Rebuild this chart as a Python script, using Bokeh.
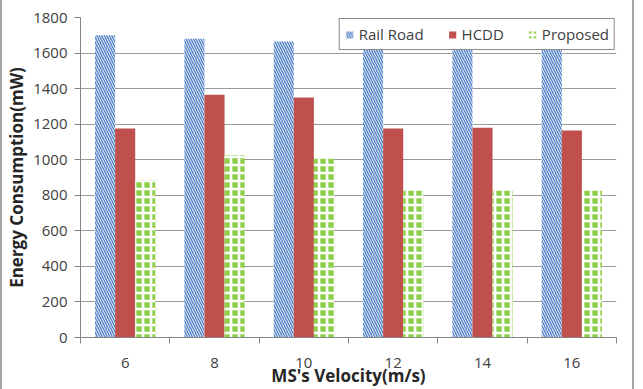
from bokeh.plotting import figure
from bokeh.models import FixedTicker, Range1d, Legend, LegendItem, ColumnDataSource
from bokeh.transform import dodge
from bokeh.embed import file_html
from bokeh.resources import INLINE

# ---- data ----
velocities = ["6", "8", "10", "12", "14", "16"]
rail_road = [1700, 1680, 1665, 1650, 1650, 1650]
hcdd = [1175, 1365, 1350, 1175, 1180, 1165]
proposed = [885, 1025, 1005, 825, 825, 825]
y_ticks = [0, 200, 400, 600, 800, 1000, 1200, 1400, 1600, 1800]

centers = [i + 0.5 for i in range(len(velocities))]
bounds = [i for i in range(len(velocities) + 1)]

src = ColumnDataSource(dict(x=centers, rail=rail_road, hcdd=hcdd, prop=proposed))

FONT = "Open Sans"

p = figure(width=634, height=389, output_backend="svg", toolbar_location=None,
           x_range=Range1d(0, len(velocities)), y_range=Range1d(0, 1800),
           min_border_left=74, min_border_right=20, min_border_top=17, min_border_bottom=50,
           styles={"border-left": "2px solid #a3a3a3", "border-right": "2px solid #a3a3a3"})
p.outline_line_color = None
p.background_fill_color = "white"
p.border_fill_color = "white"

bw = 0.225

r1 = p.vbar(x=dodge("x", -bw, range=p.x_range), top="rail", width=bw, source=src,
            fill_color="white", line_color=None,
            hatch_pattern="\\", hatch_color="#5585c9", hatch_scale=5, hatch_weight=1.5)
r2 = p.vbar(x=dodge("x", 0, range=p.x_range), top="hcdd", width=bw, source=src,
            fill_color="#C0504D", line_color=None)
r3 = p.vbar(x=dodge("x", bw, range=p.x_range), top="prop", width=bw, source=src,
            fill_color="#8fcf4a", line_color=None,
            hatch_pattern="+", hatch_color="white", hatch_scale=8, hatch_weight=2.6)

# y axis
ya = p.yaxis[0]
ya.ticker = FixedTicker(ticks=y_ticks)
ya.axis_line_color = "#868686"
ya.major_tick_line_color = "#868686"
ya.major_tick_out = 6
ya.major_tick_in = 0
ya.minor_tick_line_color = None
ya.major_label_standoff = 7
ya.major_label_text_font = FONT
ya.major_label_text_font_size = "15px"
ya.major_label_text_color = "#404040"
ya.axis_label = "Energy Consumption(mW)"
ya.axis_label_text_font = FONT
ya.axis_label_text_font_size = "17px"
ya.axis_label_text_font_style = "bold"
ya.axis_label_text_color = "#262626"
ya.axis_label_standoff = 2

# x axis: labels at category centres, ticks at category boundaries
xa = p.xaxis[0]
xa.ticker = FixedTicker(ticks=centers, minor_ticks=bounds)
xa.major_label_overrides = {c: v for c, v in zip(centers, velocities)}
xa.axis_line_color = "#868686"
xa.major_tick_line_color = None
xa.major_tick_out = 0
xa.major_tick_in = 0
xa.minor_tick_line_color = "#868686"
xa.minor_tick_out = 6
xa.minor_tick_in = 0
xa.major_label_standoff = 14
xa.major_label_text_font = FONT
xa.major_label_text_font_size = "15px"
xa.major_label_text_color = "#404040"
xa.axis_label = "MS's Velocity(m/s)"
xa.axis_label_text_font = FONT
xa.axis_label_text_font_size = "17px"
xa.axis_label_text_font_style = "bold"
xa.axis_label_text_color = "#262626"
xa.axis_label_standoff = -7

p.xgrid.grid_line_color = None
p.ygrid.ticker = FixedTicker(ticks=y_ticks)
p.ygrid.grid_line_color = "#9a9a9a"
p.ygrid.grid_line_width = 1

legend = Legend(items=[LegendItem(label="Rail Road", renderers=[r1]),
                       LegendItem(label="HCDD", renderers=[r2]),
                       LegendItem(label="Proposed", renderers=[r3])],
                orientation="horizontal", location="top_right")
legend.margin = 1
legend.padding = 5
legend.spacing = 24
legend.label_standoff = 5
legend.glyph_width = 9
legend.glyph_height = 9
legend.label_height = 16
legend.label_text_font = FONT
legend.label_text_font_size = "15px"
legend.label_text_color = "#404040"
legend.border_line_color = "#1a1a1a"
legend.border_line_width = 1.5
legend.background_fill_color = "white"
legend.background_fill_alpha = 1
p.add_layout(legend, "center")

open("out.html", "w").write(file_html(p, INLINE))
